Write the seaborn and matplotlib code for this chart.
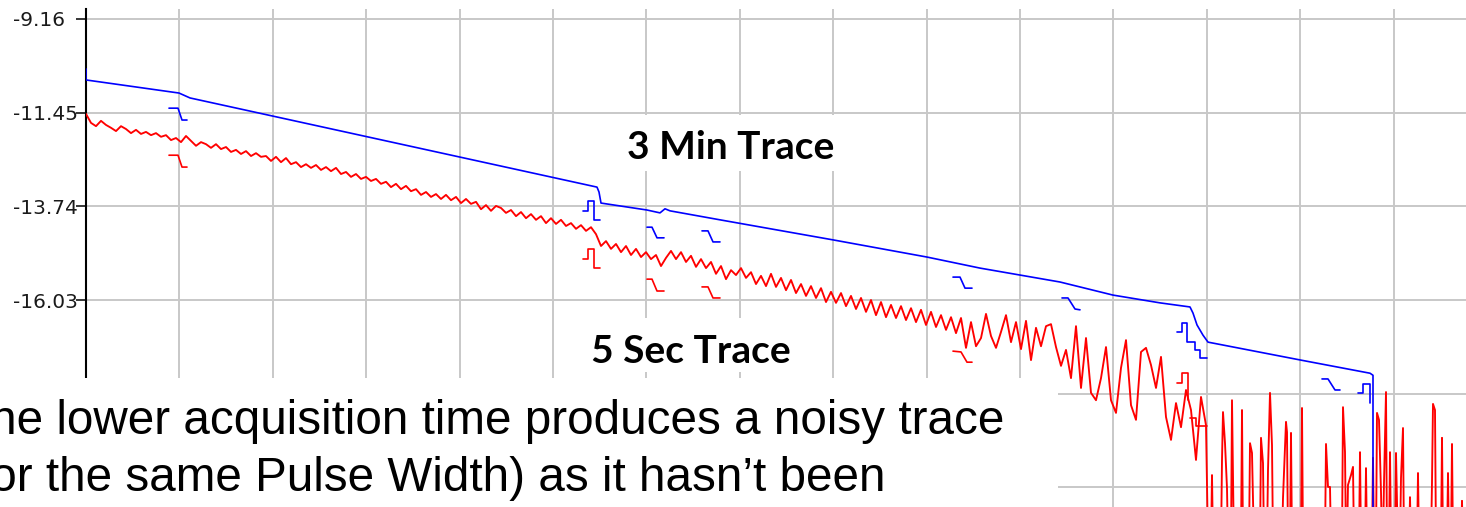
import numpy as np
import matplotlib
matplotlib.use("Agg")
import matplotlib.pyplot as plt
import seaborn as sns
from matplotlib.patches import Rectangle
from matplotlib.ticker import MultipleLocator

# ---------------- data ----------------
y_ticks = [-9.16, -11.45, -13.74, -16.03, -18.32, -20.61]
y_tick_labels = ["-9.16", "-11.45", "-13.74", "-16.03", "", ""]   # last two hidden by the caption box
grid_step_m = 934          # distance between vertical grid lines (m)
sample_step_m = 50         # sample spacing of the 5 s trace (m)
F = -22.0                  # noise-floor level (below the visible window)

# 5 Sec trace (dB), one value every 50 m from 0 m
red_db = [
    -11.48, -11.70, -11.78, -11.65, -11.75, -11.82, -11.90, -11.78, -11.85, -11.95,
    -11.87, -11.97, -11.92, -12.00, -11.95, -12.04, -12.00, -12.12, -12.07, -12.17,
    -12.02, -12.14, -12.26, -12.17, -12.22, -12.31, -12.22, -12.34, -12.29, -12.41,
    -12.36, -12.46, -12.39, -12.51, -12.44, -12.53, -12.51, -12.63, -12.53, -12.66,
    -12.56, -12.71, -12.66, -12.78, -12.71, -12.80, -12.73, -12.85, -12.78, -12.88,
    -12.80, -12.95, -12.90, -13.02, -12.95, -13.07, -13.02, -13.12, -13.07, -13.19,
    -13.14, -13.27, -13.19, -13.32, -13.24, -13.37, -13.32, -13.46, -13.39, -13.51,
    -13.44, -13.56, -13.46, -13.59, -13.51, -13.66, -13.56, -13.68, -13.63, -13.81,
    -13.71, -13.85, -13.73, -13.78, -13.90, -13.83, -13.98, -13.88, -14.03, -13.93,
    -14.07, -13.98, -14.15, -14.03, -14.17, -14.07, -14.22, -14.15, -14.29, -14.20,
    -14.34, -14.25, -14.42, -14.71, -14.59, -14.78, -14.66, -14.86, -14.71, -14.93,
    -14.78, -14.98, -14.86, -15.03, -14.93, -15.20, -15.00, -14.83, -15.03, -14.86,
    -15.10, -14.95, -15.22, -15.03, -15.25, -15.10, -15.39, -15.20, -15.52, -15.30,
    -15.42, -15.25, -15.49, -15.35, -15.64, -15.44, -15.69, -15.39, -15.71, -15.49,
    -15.79, -15.54, -15.86, -15.64, -15.93, -15.69, -15.98, -15.74, -16.08, -15.83,
    -16.10, -15.86, -16.18, -15.93, -16.25, -15.98, -16.32, -16.03, -16.40, -16.08,
    -16.45, -16.15, -16.47, -16.18, -16.52, -16.23, -16.57, -16.27, -16.64, -16.32,
    -16.69, -16.40, -16.76, -16.45, -16.84, -16.47, -17.20, -16.57, -17.16, -16.96,
    -16.37, -16.91, -17.20, -16.81, -16.40, -17.06, -16.57, -17.23, -16.54, -17.50,
    -16.71, -17.16, -16.67, -16.62, -17.18, -17.64, -17.25, -17.94, -16.67, -18.18,
    -16.96, -18.30, -18.48, -17.94, -17.18, -18.48, -18.79, -17.69, -17.01, -18.60,
    -18.96, -17.30, -17.20, -17.62, -18.18, -17.42, -18.89, -19.45, -18.55, -19.14,
    -18.23, -18.72, -19.94, -18.40, -19.09,
]

# 5 Sec trace beyond the fibre end: noise-floor spikes
red_tail_m = [11220, 11250, 11260, 11270, 11350, 11360, 11370, 11390, 11410, 11420,
              11450, 11460, 11470, 11480, 11550, 11560, 11570, 11630, 11640, 11660,
              11670, 11680, 11740, 11750, 11770, 11780, 11810, 11820, 11840, 11860,
              11870, 11960, 11970, 12000, 12010, 12020, 12040, 12050, 12060, 12150,
              12160, 12170, 12390, 12400, 12420, 12440, 12450, 12560, 12570, 12590,
              12600, 12610, 12620, 12650, 12670, 12680, 12730, 12740, 12750, 12790,
              12800, 12810, 12860, 12870, 12880, 12900, 12910, 12930, 12950, 12960,
              12970, 12980, 13000, 13010, 13030, 13040, 13050, 13090, 13100, 13110,
              13120, 13140, 13150, 13170, 13180, 13230, 13240, 13250, 13310, 13320,
              13330, 13450, 13460, 13470, 13490, 13500, 13550, 13560, 13570, 13610,
              13620, 13630, 13650, 13660, 13670, 13750, 13760, 13770, 13800]
red_tail_db = [F, F, -20.31, F, F, -19.94, -18.77, -19.53, -20.63, F,
               F, -18.48, -20.50, F, F, -18.72, F, F, -19.53, -19.77,
               -20.92, F, F, -19.40, -20.02, F, F, -20.19, -18.30, -19.58,
               F, F, -20.87, -19.01, -19.26, F, F, -19.28, F, F,
               -18.67, F, F, -19.55, -20.60, -20.60, F, F, -18.65, -19.75,
               F, F, -20.55, -20.31, -20.11, F, F, -19.75, F, F,
               -20.14, F, F, -19.89, F, F, -18.79, -18.96, -20.72, F,
               F, -20.50, -18.28, F, F, -19.75, F, F, -19.77, -20.99,
               F, F, -20.38, -19.16, F, F, -20.85, F, F, -20.26,
               F, F, -20.48, -18.57, -18.72, F, F, -19.40, F, F,
               -20.26, F, F, -19.55, F, F, -20.94, F, F]

# 3 Min trace (m, dB)
blue_m = [0, 0, 930, 1040, 5110, 5130, 5150, 5610, 5740, 5790, 5840, 6340,
          7470, 8410, 8940, 9340, 9740, 10270, 10740, 11040, 11070, 11110, 11170,
          11220, 12150, 12840, 12870, 12870]
blue_db = [-10.38, -10.65, -10.97, -11.09, -13.27, -13.39, -13.66, -13.83,
           -13.90, -13.80, -13.85, -14.07, -14.56, -14.98, -15.25, -15.42, -15.59,
           -15.91, -16.10, -16.20, -16.35, -16.64, -16.89, -17.06, -17.50, -17.82,
           -17.87, F]

# event markers (m list, dB list)
blue_marks = [
    ([830, 920, 960, 1010], [-11.34, -11.34, -11.63, -11.63]),
    ([4970, 5020, 5020, 5080, 5080, 5140], [-13.85, -13.85, -13.61, -13.61, -14.07, -14.07]),
    ([5610, 5660, 5710, 5780], [-14.25, -14.25, -14.51, -14.51]),
    ([6160, 6220, 6270, 6340], [-14.34, -14.34, -14.61, -14.61]),
    ([8670, 8740, 8790, 8860], [-15.47, -15.47, -15.74, -15.74]),
    ([9760, 9820, 9890, 9940], [-15.98, -15.98, -16.25, -16.27]),
    ([10910, 10960, 10960, 11010, 11010, 11090, 11090, 11140, 11140, 11210],
     [-16.81, -16.81, -16.59, -16.59, -17.06, -17.06, -17.25, -17.25, -17.45, -17.45]),
    ([12360, 12420, 12490, 12540], [-17.96, -17.96, -18.23, -18.23]),
    ([12720, 12770, 12770, 12840, 12840], [-18.30, -18.30, -18.08, -18.08, -18.55]),
]
red_marks = [
    ([830, 920, 960, 1010], [-12.49, -12.49, -12.78, -12.78]),
    ([4970, 5020, 5020, 5080, 5080, 5140], [-15.03, -15.03, -14.78, -14.78, -15.25, -15.25]),
    ([5610, 5660, 5710, 5780], [-15.52, -15.52, -15.81, -15.81]),
    ([6160, 6220, 6270, 6340], [-15.71, -15.71, -15.98, -15.98]),
    ([8670, 8750, 8810, 8860], [-17.28, -17.30, -17.55, -17.55]),
    ([10910, 10960, 10960, 11020, 11020], [-18.06, -18.06, -17.82, -17.82, -18.48]),
    ([11040, 11100, 11100, 11210], [-18.91, -18.91, -19.11, -19.11]),
]

label_3min = "3 Min Trace"
label_5sec = "5 Sec Trace"
caption_lines = ["The lower acquisition time produces a noisy trace",
                 "(for the same Pulse Width) as it hasn\u2019t been"]

# ---------------- figure ----------------
W, H = 1466, 507
sns.set_theme(style="whitegrid")
plt.rcParams['font.family'] = ['DejaVu Sans']

fig = plt.figure(figsize=(W / 100, H / 100), dpi=100)
fig.patch.set_facecolor("white")
ax = fig.add_axes([86 / W, 0, 1 - 86 / W, 1 - 9 / H])
ax.set_facecolor("white")

red_m = np.arange(len(red_db)) * sample_step_m
red_x = list(red_m) + red_tail_m
red_y = list(red_db) + red_tail_db

RED = "#ff0000"
BLUE = "#0000ff"

sns.lineplot(x=red_x, y=red_y, sort=False, estimator=None, ax=ax, color=RED, lw=1.35, zorder=3)
for mx, my in red_marks:
    sns.lineplot(x=mx, y=my, sort=False, estimator=None, ax=ax, color=RED, lw=1.2, zorder=3)
sns.lineplot(x=blue_m, y=blue_db, sort=False, estimator=None, ax=ax, color=BLUE, lw=1.2, zorder=4)
for mx, my in blue_marks:
    sns.lineplot(x=mx, y=my, sort=False, estimator=None, ax=ax, color=BLUE, lw=1.2, zorder=4)

ax.set_xlim(0, (W - 86) * 10)
ax.set_ylim(-8.6955 - 0.024448 * 507, -8.6955 - 0.024448 * 9)
ax.xaxis.set_major_locator(MultipleLocator(grid_step_m))
ax.set_yticks(y_ticks)
ax.set_yticklabels(y_tick_labels)
ax.grid(True, color="#c8c8c8", lw=1.4)
ax.set_axisbelow(True)
ax.tick_params(axis="x", length=0, labelbottom=False)
ax.tick_params(axis="y", left=True, length=7.2, width=1.1, color="black",
               pad=45.4, labelsize=14.5, labelcolor="#1a1a1a")
for lab in ax.get_yticklabels():
    lab.set_horizontalalignment("left")
for s in ["top", "right", "bottom"]:
    ax.spines[s].set_visible(False)
ax.spines["left"].set_color("black")
ax.spines["left"].set_linewidth(1.5)
ax.set_xlabel("")
ax.set_ylabel("")


def box(x0, y0, x1, y1):
    r = Rectangle((x0 / W, 1 - y1 / H), (x1 - x0) / W, (y1 - y0) / H,
                  transform=fig.transFigure, facecolor="white", edgecolor="none", zorder=10)
    fig.add_artist(r)


box(600, 115, 870, 171)
box(570, 318, 832, 372)
box(-5, 378, 1058, H + 5)

fig.text(627 / W, 1 - 159 / H, label_3min, ha="left", va="baseline", fontsize=28,
         fontweight="bold", family=["Lato", "DejaVu Sans"], color="black", zorder=11)
fig.text(591 / W, 1 - 363 / H, label_5sec, ha="left", va="baseline", fontsize=28,
         fontweight="bold", family=["Lato", "DejaVu Sans"], color="black", zorder=11)
fig.text(-39 / W, 1 - 434 / H, caption_lines[0], ha="left", va="baseline", fontsize=34.3,
         family=["Liberation Sans", "DejaVu Sans"], color="black", zorder=11)
fig.text(-39 / W, 1 - 491 / H, caption_lines[1], ha="left", va="baseline", fontsize=34.3,
         family=["Liberation Sans", "DejaVu Sans"], color="black", zorder=11)

fig.savefig("out.png", dpi=100, facecolor="white")
